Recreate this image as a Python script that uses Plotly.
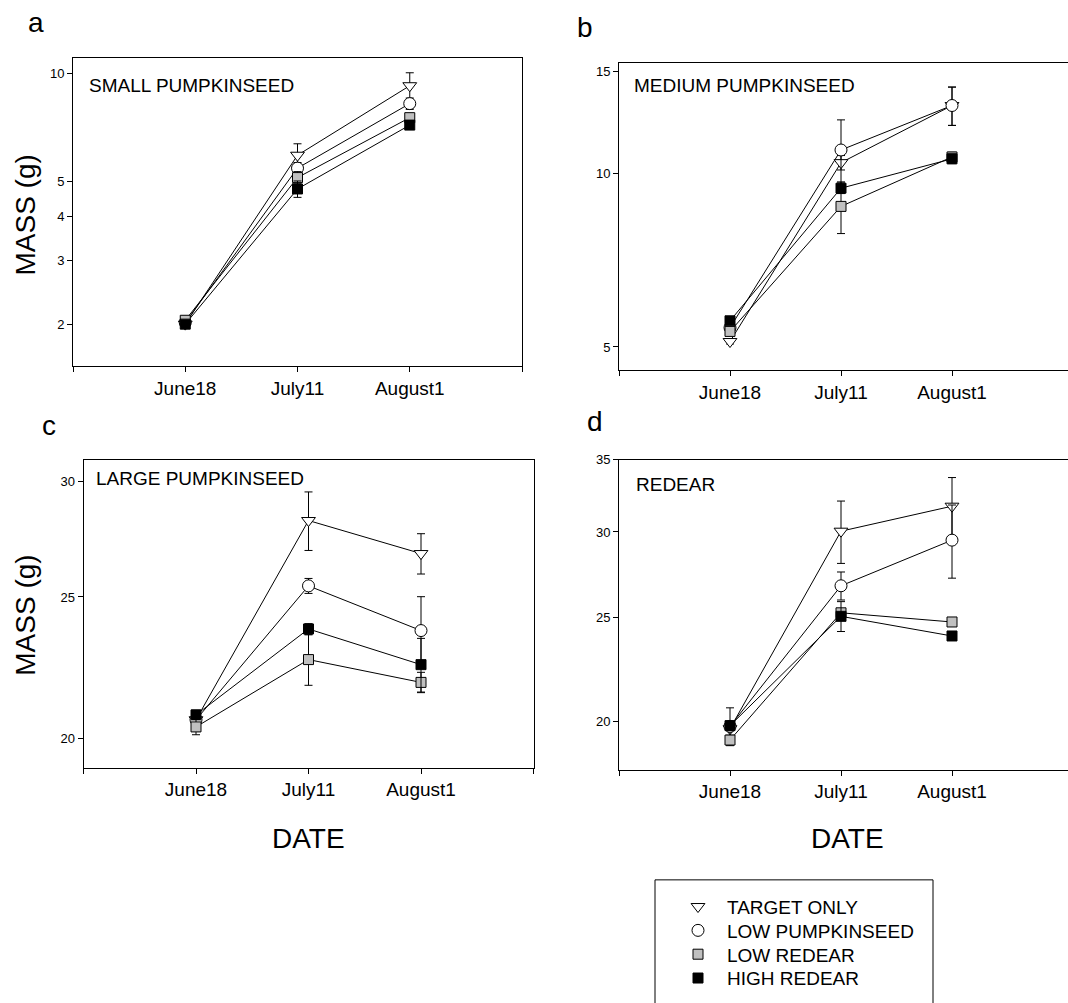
import plotly.graph_objects as go

W, H = 1068, 1003

dates = ["June18", "July11", "August1"]
xpos = [1, 2, 3]

series_names = ["TARGET ONLY", "LOW PUMPKINSEED", "LOW REDEAR", "HIGH REDEAR"]

# Panel a: SMALL PUMPKINSEED
small_target = [2.00, 5.91, 9.23]
small_target_err = [0.05, 0.45, 0.80]
small_lowp = [2.02, 5.44, 8.23]
small_lowp_err = [0.03, 0.20, 0.30]
small_lowr = [2.05, 5.12, 7.52]
small_lowr_err = [0.03, 0.20, 0.20]
small_highr = [2.00, 4.76, 7.17]
small_highr_err = [0.03, 0.25, 0.15]

# Panel b: MEDIUM PUMPKINSEED
med_target = [5.11, 10.43, 13.10]
med_target_err = [0.05, 0.30, 1.00]
med_lowp = [5.40, 10.97, 13.10]
med_lowp_err = [0.05, 1.40, 1.00]
med_lowr = [5.32, 8.76, 10.67]
med_lowr_err = [0.05, 0.90, 0.20]
med_highr = [5.55, 9.42, 10.59]
med_highr_err = [0.05, 0.20, 0.20]

# Panel c: LARGE PUMPKINSEED
large_target = [20.60, 28.20, 26.77]
large_target_err = [0.20, 1.30, 0.85]
large_lowp = [20.60, 25.44, 23.71]
large_lowp_err = [0.20, 0.30, 1.30]
large_lowr = [20.37, 22.65, 21.85]
large_lowr_err = [0.25, 0.90, 0.35]
large_highr = [20.76, 23.77, 22.47]
large_highr_err = [0.15, 0.20, 0.95]

# Panel d: REDEAR
red_target = [19.70, 30.05, 31.70]
red_target_err = [0.30, 2.00, 2.00]
red_lowp = [19.80, 26.74, 29.48]
red_lowp_err = [0.80, 0.80, 2.30]
red_lowr = [19.23, 25.24, 24.75]
red_lowr_err = [0.20, 0.20, 0.20]
red_highr = [19.83, 25.05, 24.02]
red_highr_err = [0.20, 0.80, 0.15]

panel_titles = ["SMALL PUMPKINSEED", "MEDIUM PUMPKINSEED", "LARGE PUMPKINSEED", "REDEAR"]
panel_letters = ["a", "b", "c", "d"]
ytick_a = [2, 3, 4, 5, 10]
ytick_b = [5, 10, 15]
ytick_c = [20, 25, 30]
ytick_d = [20, 25, 30, 35]

panels = [
    ([small_target, small_lowp, small_lowr, small_highr],
     [small_target_err, small_lowp_err, small_lowr_err, small_highr_err]),
    ([med_target, med_lowp, med_lowr, med_highr],
     [med_target_err, med_lowp_err, med_lowr_err, med_highr_err]),
    ([large_target, large_lowp, large_lowr, large_highr],
     [large_target_err, large_lowp_err, large_lowr_err, large_highr_err]),
    ([red_target, red_lowp, red_lowr, red_highr],
     [red_target_err, red_lowp_err, red_lowr_err, red_highr_err]),
]

# styles
symbols = ["triangle-down", "circle", "square", "square"]
fills = ["white", "white", "#c0c0c0", "black"]
sizes = [12, 12, 10, 10]

FONT = "Liberation Sans, Arial, sans-serif"

# layout geometry in pixels (left, right, top, bottom)
boxes = [
    (73, 522, 51.7, 361.7),
    (619, 1068, 56, 366),
    (83.5, 533.5, 456, 766),
    (619, 1068, 456, 768),
]
xranges = [[0, 4], [0, 4.045], [0, 4], [0, 4.045]]
yranges = [[0.1839, 1.0415], [0.6583, 1.1916], [1.2811, 1.4918], [1.2565, 1.5441]]
yticks = [ytick_a, ytick_b, ytick_c, ytick_d]
mirror_y = [True, False, True, False]
xtickvals = [[0, 1, 2, 3, 4], [0, 1, 2, 3], [0, 1, 2, 3, 4], [0, 1, 2, 3]]

legend_ids = ["legend", "legend2", "legend3", "legend4"]
legend_rows = [906, 930, 954, 978]

fig = go.Figure()

for p, (vals, errs) in enumerate(panels):
    ax = "" if p == 0 else str(p + 1)
    for s in range(4):
        fig.add_trace(go.Scatter(
            x=xpos, y=vals[s], mode="lines",
            line=dict(color="black", width=1),
            xaxis="x" + ax, yaxis="y" + ax,
            showlegend=False, hoverinfo="skip",
        ))
    for s in range(4):
        fig.add_trace(go.Scatter(
            x=xpos, y=vals[s], mode="markers",
            name=series_names[s],
            marker=dict(symbol=symbols[s], size=sizes[s], color=fills[s],
                        line=dict(color="black", width=1)),
            error_y=dict(type="data", array=errs[s], visible=True,
                         color="black", thickness=1, width=4),
            xaxis="x" + ax, yaxis="y" + ax,
            showlegend=(p == 0), legend=legend_ids[s],
        ))

layout = dict(
    width=W, height=H,
    margin=dict(l=0, r=0, t=0, b=0),
    paper_bgcolor="white", plot_bgcolor="white",
    font=dict(family=FONT, color="black"),
    showlegend=True,
)
for s in range(4):
    layout[legend_ids[s]] = dict(
        x=669 / W, y=1 - legend_rows[s] / H, xanchor="left", yanchor="middle",
        bgcolor="rgba(0,0,0,0)", borderwidth=0,
        font=dict(family=FONT, size=19, color="black"),
        itemwidth=48, tracegroupgap=0,
    )

for p in range(4):
    ax = "" if p == 0 else str(p + 1)
    l, r, t, b = boxes[p]
    tv = xtickvals[p]
    tt = [""] + dates + [""] * (len(tv) - 4)
    layout["xaxis" + ax] = dict(
        domain=[l / W, r / W], range=xranges[p],
        tickvals=tv, ticktext=tt,
        ticks="outside", ticklen=5, tickwidth=1, tickcolor="black",
        showline=True, linecolor="black", linewidth=1, mirror=True,
        showgrid=False, zeroline=False,
        tickfont=dict(family=FONT, size=19, color="black"),
        anchor="y" + ax, fixedrange=True,
    )
    layout["yaxis" + ax] = dict(
        domain=[1 - b / H, 1 - t / H], type="log", range=yranges[p],
        tickvals=yticks[p], ticktext=[str(v) for v in yticks[p]],
        ticks="outside", ticklen=5, tickwidth=1, tickcolor="black",
        showline=True, linecolor="black", linewidth=1, mirror=mirror_y[p],
        showgrid=False, zeroline=False,
        tickfont=dict(family=FONT, size=13, color="black"),
        anchor="x" + ax, fixedrange=True,
    )

fig.update_layout(**layout)

annotations = []
letter_pos = [(36, 16), (585, 21), (49, 421), (595, 417)]
for p in range(4):
    lx, ly = letter_pos[p]
    annotations.append(dict(
        text=panel_letters[p], x=lx / W, y=1 - ly / H, xref="paper", yref="paper",
        xanchor="center", yanchor="middle", showarrow=False,
        font=dict(family=FONT, size=28, color="black")))
title_pos = [(87, 79), (632, 79), (94, 475), (634, 481)]
for p in range(4):
    tx, ty = title_pos[p]
    annotations.append(dict(
        text=panel_titles[p], x=tx / W, y=1 - ty / H, xref="paper", yref="paper",
        xanchor="left", yanchor="middle", showarrow=False,
        font=dict(family=FONT, size=19, color="black")))
for yc in [210, 613]:
    annotations.append(dict(
        text="MASS (g)", x=26 / W, y=1 - yc / H, xref="paper", yref="paper",
        xanchor="center", yanchor="middle", showarrow=False, textangle=-90,
        font=dict(family=FONT, size=28, color="black")))
for xc in [308, 847]:
    annotations.append(dict(
        text="DATE", x=xc / W, y=1 - 837 / H, xref="paper", yref="paper",
        xanchor="center", yanchor="middle", showarrow=False,
        font=dict(family=FONT, size=28, color="black")))

fig.update_layout(annotations=annotations)

# legend frame (open at bottom edge like the reference)
fig.add_shape(type="rect", xref="paper", yref="paper",
              x0=655 / W, x1=933 / W, y0=-0.05, y1=1 - 879 / H,
              line=dict(color="black", width=1), fillcolor="rgba(0,0,0,0)")

fig.write_html("out.html")
